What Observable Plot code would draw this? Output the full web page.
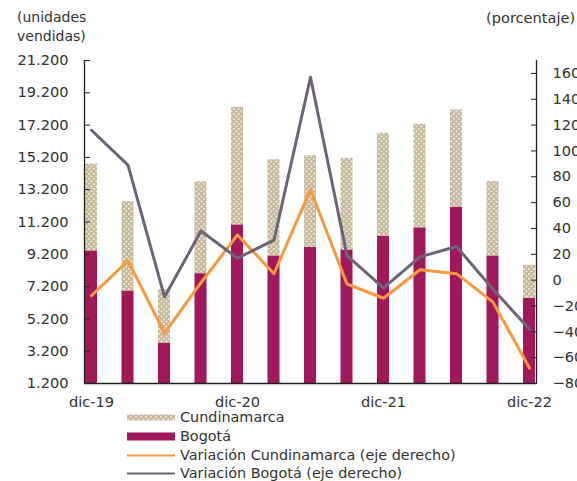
<!DOCTYPE html>
<html><head><meta charset="utf-8">
<script src="https://cdn.jsdelivr.net/npm/d3@7"></script>
<script src="https://cdn.jsdelivr.net/npm/@observablehq/plot@0.6"></script>
<style>
body{margin:0;background:#fff;font-family:"DejaVu Sans",sans-serif;color:#333}
#wrap{position:relative;width:577px;height:481px;overflow:hidden}
.t{position:absolute;font-size:14px;line-height:19px;white-space:nowrap}
#legend{position:absolute;left:127px;top:408px;font-size:14.4px;line-height:18.8px}
#legend .row{display:flex;align-items:center;height:18.8px;white-space:nowrap}
#legend svg{display:block;margin-right:5px}
</style></head><body>
<div id="wrap">
  <div class="t" style="left:17px;top:8px">(unidades<br>vendidas)</div>
  <div class="t" style="left:486px;top:8px;font-size:14.6px">(porcentaje)</div>
  <div id="chart" style="position:absolute;left:0;top:50px"></div>
  <div id="legend"></div>
</div>
<script>
// ---- data ----
const labels = ["dic-19","mar-20","jun-20","sep-20","dic-20","mar-21","jun-21","sep-21","dic-21","mar-22","jun-22","sep-22","dic-22"];
const bogota = [9410, 6930, 3700, 8000, 11020, 9100, 9620, 9470, 10320, 10840, 12120, 9100, 6480];
const cundinamarca = [5380, 5540, 3330, 5690, 7280, 5960, 5680, 5670, 6370, 6410, 6020, 4610, 2040];
const varBogota = [116, 89, -13, 38, 17, 31, 157, 19, -6, 18, 26, -7, -38];
const varCundinamarca = [-12, 15, -41, -2, 35, 5, 70, -3, -14, 8, 5, -17, -68];
const leftTicks = [1200, 3200, 5200, 7200, 9200, 11200, 13200, 15200, 17200, 19200, 21200];
const rightTicks = [-80, -60, -40, -20, 0, 20, 40, 60, 80, 100, 120, 140, 160];
const xLabelIdx = [0, 4, 8, 12];
const xTickIdx = [4, 8];
const seriesNames = ["Cundinamarca", "Bogotá", "Variación Cundinamarca (eje derecho)", "Variación Bogotá (eje derecho)"];

// ---- styles ----
const cMaroon = "#a0195a", cTan = "#c9b99b", cOrange = "#f7993f", cPurple = "#6e6378", cAxis = "#222";
const Y0 = 1200, Y1 = 21200, P0 = -80, P1 = 170;
const XD = [-0.192, 12.192];
const half = 0.165;
const toY = p => Y0 + (p - P0) * (Y1 - Y0) / (P1 - P0);
const toP = y => P0 + (y - Y0) * (P1 - P0) / (Y1 - Y0);
const loc = d3.formatLocale({decimal: ",", thousands: ".", grouping: [3], currency: ["$", ""]});
const fmt = loc.format(",");

const data = labels.map((l, i) => ({i, l, bog: bogota[i], cun: cundinamarca[i],
  vb: toY(varBogota[i]), vc: toY(varCundinamarca[i])}));

const chart = Plot.plot({
  width: 577, height: 360,
  marginLeft: 84, marginRight: 41, marginTop: 10, marginBottom: 27,
  style: {fontFamily: "DejaVu Sans, sans-serif", fontSize: "14.6px", color: "#333", background: "transparent", overflow: "visible"},
  x: {type: "linear", domain: XD, axis: null},
  y: {domain: [Y0, Y1], axis: null},
  marks: [
    Plot.rectY(data, {x1: d => d.i - half, x2: d => d.i + half, y1: Y0, y2: "bog", fill: cMaroon}),
    Plot.rectY(data, {x1: d => d.i - half, x2: d => d.i + half, y1: "bog", y2: d => d.bog + d.cun, fill: "url(#dots)"}),
    Plot.line(data, {x: "i", y: "vc", stroke: cOrange, strokeWidth: 3}),
    Plot.line(data, {x: "i", y: "vb", stroke: cPurple, strokeWidth: 3}),
    Plot.ruleX([XD[0]], {stroke: cAxis, strokeWidth: 1.3}),
    Plot.ruleX([XD[1]], {stroke: cAxis, strokeWidth: 1.3}),
    Plot.ruleY([Y0], {stroke: cAxis, strokeWidth: 1.3}),
    Plot.axisY(leftTicks, {anchor: "left", label: null, tickSize: -6, tickPadding: 22, tickFormat: fmt, stroke: cAxis, fill: "#333"}),
    Plot.axisY(rightTicks.map(toY), {anchor: "right", label: null, tickSize: -6, tickPadding: 22, tickFormat: y => d3.format("")(Math.round(toP(y))), stroke: cAxis, fill: "#333"}),
    Plot.axisX(xLabelIdx, {anchor: "bottom", label: null, tickSize: 0, tickPadding: 13, tickFormat: i => labels[i], fill: "#333"}),
    Plot.axisX(xTickIdx.map(i => i - half), {anchor: "bottom", label: null, tickSize: -5, tickFormat: () => "", stroke: cAxis})
  ]
});

// pattern defs
const ns = "http://www.w3.org/2000/svg";
const defs = document.createElementNS(ns, "defs");
defs.innerHTML = `<pattern id="dots" patternUnits="userSpaceOnUse" width="5" height="5">
  <rect width="5" height="5" fill="${cTan}"/>
  <rect x="0.6" y="0.6" width="1.6" height="1.6" fill="#fff" opacity="0.85"/>
  <rect x="3.1" y="3.1" width="1.6" height="1.6" fill="#fff" opacity="0.85"/>
</pattern>`;
chart.insertBefore(defs, chart.firstChild);
document.getElementById("chart").appendChild(chart);

// legend
const sw = [
  `<rect x="0" y="6.5" width="48" height="6" fill="url(#dots)"/>`,
  `<rect x="0" y="5.5" width="48" height="8" fill="${cMaroon}"/>`,
  `<line x1="0" x2="48" y1="9.5" y2="9.5" stroke="${cOrange}" stroke-width="2.2"/>`,
  `<line x1="0" x2="48" y1="9.5" y2="9.5" stroke="${cPurple}" stroke-width="2.2"/>`
];
document.getElementById("legend").innerHTML = seriesNames.map((n, k) =>
  `<div class="row"><svg width="48" height="19">${sw[k]}</svg><span>${n}</span></div>`).join("");
</script>
</body></html>
